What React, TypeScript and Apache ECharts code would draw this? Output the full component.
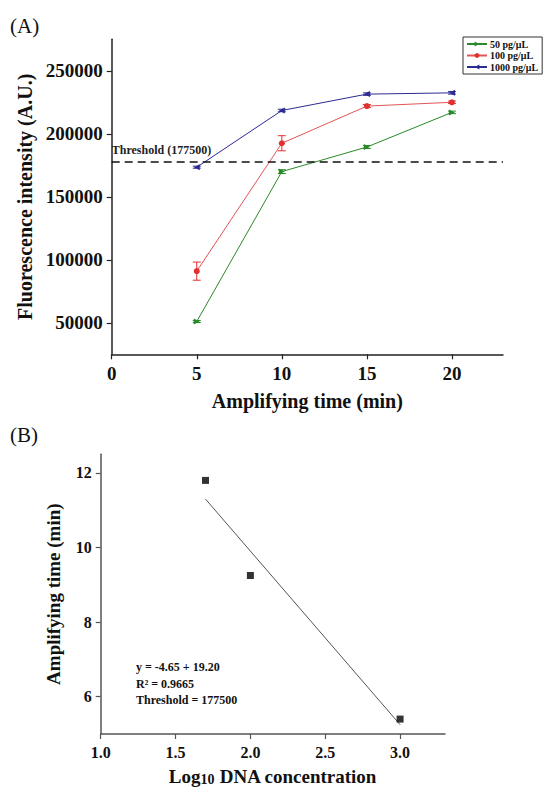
import React, { useEffect, useRef } from "react";
import * as echarts from "echarts";

// ---- Panel A data ----
const timeMin = [5, 10, 15, 20];
const seriesNames = ["50 pg/μL", "100 pg/μL", "1000 pg/μL"];
const fluo50 = [51000, 170000, 189500, 217000];
const fluo100 = [91000, 192500, 222000, 225000];
const fluo1000 = [173500, 218500, 231500, 232500];
const err50 = [800, 1500, 1200, 1000];
const err100 = [7200, 6000, 1200, 1000];
const err1000 = [800, 1000, 1000, 1000];
const thresholdValue = 177500;
const xTicksA = [0, 5, 10, 15, 20];
const yTicksA = [50000, 100000, 150000, 200000, 250000];

// ---- Panel B data ----
const logConc = [1.7, 2.0, 3.0];
const ampTime = [11.8, 9.25, 5.4];
const fitX = [1.7, 3.0];
const fitY = [11.3, 5.25];
const xTicksB = [1.0, 1.5, 2.0, 2.5, 3.0];
const yTicksB = [6, 8, 10, 12];

const FF = '"Liberation Serif", "Times New Roman", serif';
const colors = ["#2a8a2a", "#e03030", "#2b2b90"];

function errorSeries(vals: number[], errs: number[], color: string) {
  return {
    type: "custom",
    xAxisIndex: 0,
    yAxisIndex: 0,
    z: 3,
    silent: true,
    data: timeMin.map((t, i) => [t, vals[i] - errs[i], vals[i] + errs[i]]),
    encode: { x: 0, y: [1, 2] },
    renderItem: (params: any, api: any) => {
      const x = api.value(0);
      const lo = api.coord([x, api.value(1)]);
      const hi = api.coord([x, api.value(2)]);
      const w = 4;
      const style = { stroke: color, lineWidth: 1 };
      return {
        type: "group",
        children: [
          { type: "line", shape: { x1: lo[0], y1: lo[1], x2: hi[0], y2: hi[1] }, style },
          { type: "line", shape: { x1: lo[0] - w, y1: lo[1], x2: lo[0] + w, y2: lo[1] }, style },
          { type: "line", shape: { x1: hi[0] - w, y1: hi[1], x2: hi[0] + w, y2: hi[1] }, style },
        ],
      };
    },
  };
}

export default function App() {
  const ref = useRef<HTMLDivElement>(null);
  useEffect(() => {
    if (!ref.current) return;
    const chart = echarts.init(ref.current, null, { renderer: "svg" });
    const axisText = { fontFamily: FF, fontWeight: "bold", color: "#111" };
    const option: any = {
      animation: false,
      backgroundColor: "#fff",
      textStyle: { fontFamily: FF },
      grid: [
        { left: 111.7, top: 39.3, width: 391.3, height: 315 },
        { left: 100.7, top: 454.3, width: 344.3, height: 281 },
      ],
      legend: {
        data: seriesNames,
        orient: "vertical",
        left: 463,
        top: 37,
        itemWidth: 20,
        itemHeight: 6,
        itemGap: 1.5,
        padding: [2, 4, 2, 3],
        borderColor: "#333",
        borderWidth: 1,
        textStyle: { fontFamily: FF, fontWeight: "bold", fontSize: 10, color: "#111", lineHeight: 8, padding: [0, 0, 0, -2] },
      },
      xAxis: [
        {
          gridIndex: 0,
          type: "value",
          min: 0,
          max: 23,
          name: "Amplifying time (min)",
          nameLocation: "middle",
          nameGap: 37,
          nameTextStyle: { ...axisText, fontSize: 20 },
          axisLine: { lineStyle: { color: "#222", width: 1.5 } },
          axisTick: { show: true, length: 5, customValues: xTicksA, lineStyle: { color: "#222", width: 1.2 } },
          axisLabel: { ...axisText, fontSize: 19, margin: 10, customValues: xTicksA, formatter: (v: number) => String(v) },
          splitLine: { show: false },
        },
        {
          gridIndex: 1,
          type: "value",
          min: 1.0,
          max: 3.3,
          name: "{a|Log}{s|10}{a| DNA concentration}",
          nameLocation: "middle",
          nameGap: 32,
          nameTextStyle: {
            ...axisText,
            fontSize: 19,
            rich: {
              a: { fontFamily: FF, fontWeight: "bold", fontSize: 19, color: "#111" },
              s: { fontFamily: FF, fontWeight: "bold", fontSize: 14, color: "#111", padding: [6, 0, 0, 0] },
            },
          },
          axisLine: { lineStyle: { color: "#555", width: 1.5 } },
          axisTick: { show: true, length: 5, customValues: xTicksB, lineStyle: { color: "#555", width: 1.2 } },
          axisLabel: { ...axisText, fontSize: 16, margin: 10, customValues: xTicksB, formatter: (v: number) => v.toFixed(1) },
          splitLine: { show: false },
        },
      ],
      yAxis: [
        {
          gridIndex: 0,
          type: "value",
          min: 25000,
          max: 275000,
          name: "Fluorescence intensity (A.U.)",
          nameLocation: "middle",
          nameGap: 72,
          nameTextStyle: { ...axisText, fontSize: 20 },
          axisLine: { show: true, lineStyle: { color: "#222", width: 1.5 } },
          axisTick: { show: true, length: 5, customValues: yTicksA, lineStyle: { color: "#222", width: 1.2 } },
          axisLabel: { ...axisText, fontSize: 19, margin: 9, customValues: yTicksA, formatter: (v: number) => String(v) },
          splitLine: { show: false },
        },
        {
          gridIndex: 1,
          type: "value",
          min: 5,
          max: 12.5,
          name: "Amplifying time (min)",
          nameLocation: "middle",
          nameGap: 38,
          nameTextStyle: { ...axisText, fontSize: 19 },
          axisLine: { show: true, lineStyle: { color: "#555", width: 1.5 } },
          axisTick: { show: true, length: 5, customValues: yTicksB, lineStyle: { color: "#555", width: 1.2 } },
          axisLabel: { ...axisText, fontSize: 16, margin: 9, customValues: yTicksB, formatter: (v: number) => String(v) },
          splitLine: { show: false },
        },
      ],
      series: [
        {
          name: seriesNames[0],
          type: "line",
          xAxisIndex: 0,
          yAxisIndex: 0,
          data: timeMin.map((t, i) => [t, fluo50[i]]),
          symbol: "triangle",
          symbolRotate: -90,
          symbolSize: 6,
          lineStyle: { color: colors[0], width: 1 },
          itemStyle: { color: colors[0] },
          z: 4,
          markLine: {
            silent: true,
            symbol: "none",
            data: [{ yAxis: thresholdValue }],
            lineStyle: { color: "#111", type: [8, 5], width: 1.6 },
            label: {
              show: true,
              position: "insideStartTop",
              formatter: "Threshold (177500)",
              fontFamily: FF,
              fontWeight: "bold",
              fontSize: 12,
              color: "#222",
              distance: [0, 6],
            },
          },
        },
        {
          name: seriesNames[1],
          type: "line",
          xAxisIndex: 0,
          yAxisIndex: 0,
          data: timeMin.map((t, i) => [t, fluo100[i]]),
          symbol: "circle",
          symbolSize: 6,
          lineStyle: { color: "#e05555", width: 1 },
          itemStyle: { color: colors[1] },
          z: 4,
        },
        {
          name: seriesNames[2],
          type: "line",
          xAxisIndex: 0,
          yAxisIndex: 0,
          data: timeMin.map((t, i) => [t, fluo1000[i]]),
          symbol: "triangle",
          symbolRotate: 90,
          symbolSize: 6,
          lineStyle: { color: colors[2], width: 1 },
          itemStyle: { color: colors[2] },
          z: 4,
        },
        errorSeries(fluo50, err50, colors[0]),
        errorSeries(fluo100, err100, colors[1]),
        errorSeries(fluo1000, err1000, colors[2]),
        {
          type: "scatter",
          xAxisIndex: 1,
          yAxisIndex: 1,
          data: logConc.map((x, i) => [x, ampTime[i]]),
          symbol: "rect",
          symbolSize: 7,
          itemStyle: { color: "#000" },
          z: 4,
        },
        {
          type: "line",
          xAxisIndex: 1,
          yAxisIndex: 1,
          data: fitX.map((x, i) => [x, fitY[i]]),
          symbol: "none",
          lineStyle: { color: "#555", width: 1 },
          z: 3,
        },
      ],
      graphic: [
        { type: "text", x: 10, y: 26, style: { text: "(A)", font: `21px ${FF}`, fill: "#111", verticalAlign: "middle" } },
        { type: "text", x: 10, y: 435, style: { text: "(B)", font: `21px ${FF}`, fill: "#111", verticalAlign: "middle" } },
        { type: "text", x: 136, y: 667, style: { text: "y = -4.65 + 19.20", font: `bold 12px ${FF}`, fill: "#111", verticalAlign: "middle" } },
        { type: "text", x: 136, y: 683.5, style: { text: "R² = 0.9665", font: `bold 12px ${FF}`, fill: "#111", verticalAlign: "middle" } },
        { type: "text", x: 136, y: 700, style: { text: "Threshold = 177500", font: `bold 12px ${FF}`, fill: "#111", verticalAlign: "middle" } },
      ],
    };
    chart.setOption(option);
    return () => chart.dispose();
  }, []);
  return (
    <div
      ref={ref}
      style={{ position: "fixed", left: 0, top: 0, width: 544, height: 787, background: "#fff" }}
    />
  );
}
